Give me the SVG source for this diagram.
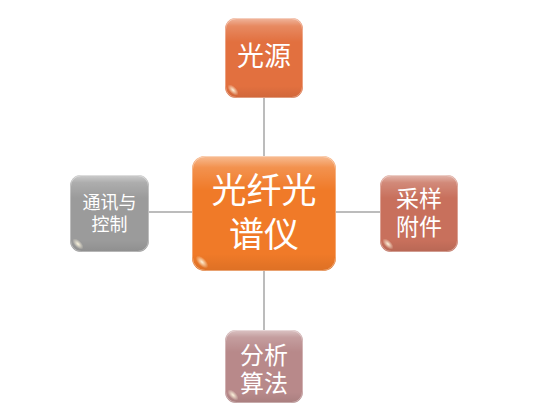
<svg xmlns="http://www.w3.org/2000/svg" width="553" height="414" viewBox="0 0 553 414">
<defs>
<linearGradient id="gloss" x1="0" y1="0" x2="0" y2="1">
<stop offset="0" stop-color="#fff" stop-opacity="0.5"/>
<stop offset="0.1" stop-color="#fff" stop-opacity="0.18"/>
<stop offset="0.3" stop-color="#fff" stop-opacity="0"/>
<stop offset="0.85" stop-color="#000" stop-opacity="0"/>
<stop offset="1" stop-color="#000" stop-opacity="0.08"/>
</linearGradient>
<radialGradient id="spot" cx="0.5" cy="0.5" r="0.5">
<stop offset="0" stop-color="#fff8e0" stop-opacity="0.95"/>
<stop offset="1" stop-color="#fff8e0" stop-opacity="0"/>
</radialGradient>
<style>
.ln{stroke:#a6a6a6;stroke-width:1.5;fill:none}
.t{font-family:"Noto Sans CJK SC","Noto Sans",sans-serif;fill:#fff;text-anchor:middle}
.gl{fill:url(#gloss)}
.edge{fill:none;stroke:#fff;stroke-opacity:0.35;stroke-width:1}
</style>
</defs>
<rect width="553" height="414" fill="#fff"/>
<g id="connectors">
<line class="ln" x1="264" y1="98" x2="264" y2="156"/>
<line class="ln" x1="264" y1="271" x2="264" y2="330"/>
<line class="ln" x1="149" y1="212" x2="192" y2="212"/>
<line class="ln" x1="336" y1="212" x2="380" y2="212"/>
</g>
<g id="center">
<rect x="192" y="156" width="144" height="115" rx="13" fill="#f07a28"/>
<rect x="192" y="156" width="144" height="115" rx="13" class="gl"/>
<rect x="192.5" y="156.5" width="143" height="114" rx="13" class="edge"/>
<ellipse cx="202" cy="262" rx="8" ry="4" transform="rotate(45 202 262)" fill="url(#spot)"/>
<text class="t" font-size="35"><tspan x="264" y="203">光纤光</tspan><tspan x="264" y="247">谱仪</tspan></text>
</g>
<g id="light">
<rect x="225" y="18" width="78" height="80" rx="11" fill="#e2703f"/>
<rect x="225" y="18" width="78" height="80" rx="11" class="gl"/>
<rect x="225.5" y="18.5" width="77" height="79" rx="11" class="edge"/>
<ellipse cx="233" cy="90" rx="7" ry="3.5" transform="rotate(45 233 90)" fill="url(#spot)"/>
<text class="t" x="264" y="66" font-size="27">光源</text>
</g>
<g id="comm">
<rect x="70" y="175" width="79" height="77" rx="11" fill="#9b9b9b"/>
<rect x="70" y="175" width="79" height="77" rx="11" class="gl"/>
<rect x="70.5" y="175.5" width="78" height="76" rx="11" class="edge"/>
<ellipse cx="78" cy="244" rx="7" ry="3.5" transform="rotate(45 78 244)" fill="url(#spot)"/>
<text class="t" font-size="18"><tspan x="109.5" y="209">通讯与</tspan><tspan x="109.5" y="231">控制</tspan></text>
</g>
<g id="sampling">
<rect x="380" y="175" width="78" height="77" rx="11" fill="#c8705c"/>
<rect x="380" y="175" width="78" height="77" rx="11" class="gl"/>
<rect x="380.5" y="175.5" width="77" height="76" rx="11" class="edge"/>
<ellipse cx="388" cy="244" rx="7" ry="3.5" transform="rotate(45 388 244)" fill="url(#spot)"/>
<text class="t" font-size="23"><tspan x="419" y="207">采样</tspan><tspan x="419" y="235">附件</tspan></text>
</g>
<g id="algorithm">
<rect x="225" y="330" width="78" height="73" rx="11" fill="#b8898a"/>
<rect x="225" y="330" width="78" height="73" rx="11" class="gl"/>
<rect x="225.5" y="330.5" width="77" height="72" rx="11" class="edge"/>
<ellipse cx="233" cy="395" rx="7" ry="3.5" transform="rotate(45 233 395)" fill="url(#spot)"/>
<text class="t" font-size="24"><tspan x="264" y="364">分析</tspan><tspan x="264" y="392">算法</tspan></text>
</g>
</svg>
